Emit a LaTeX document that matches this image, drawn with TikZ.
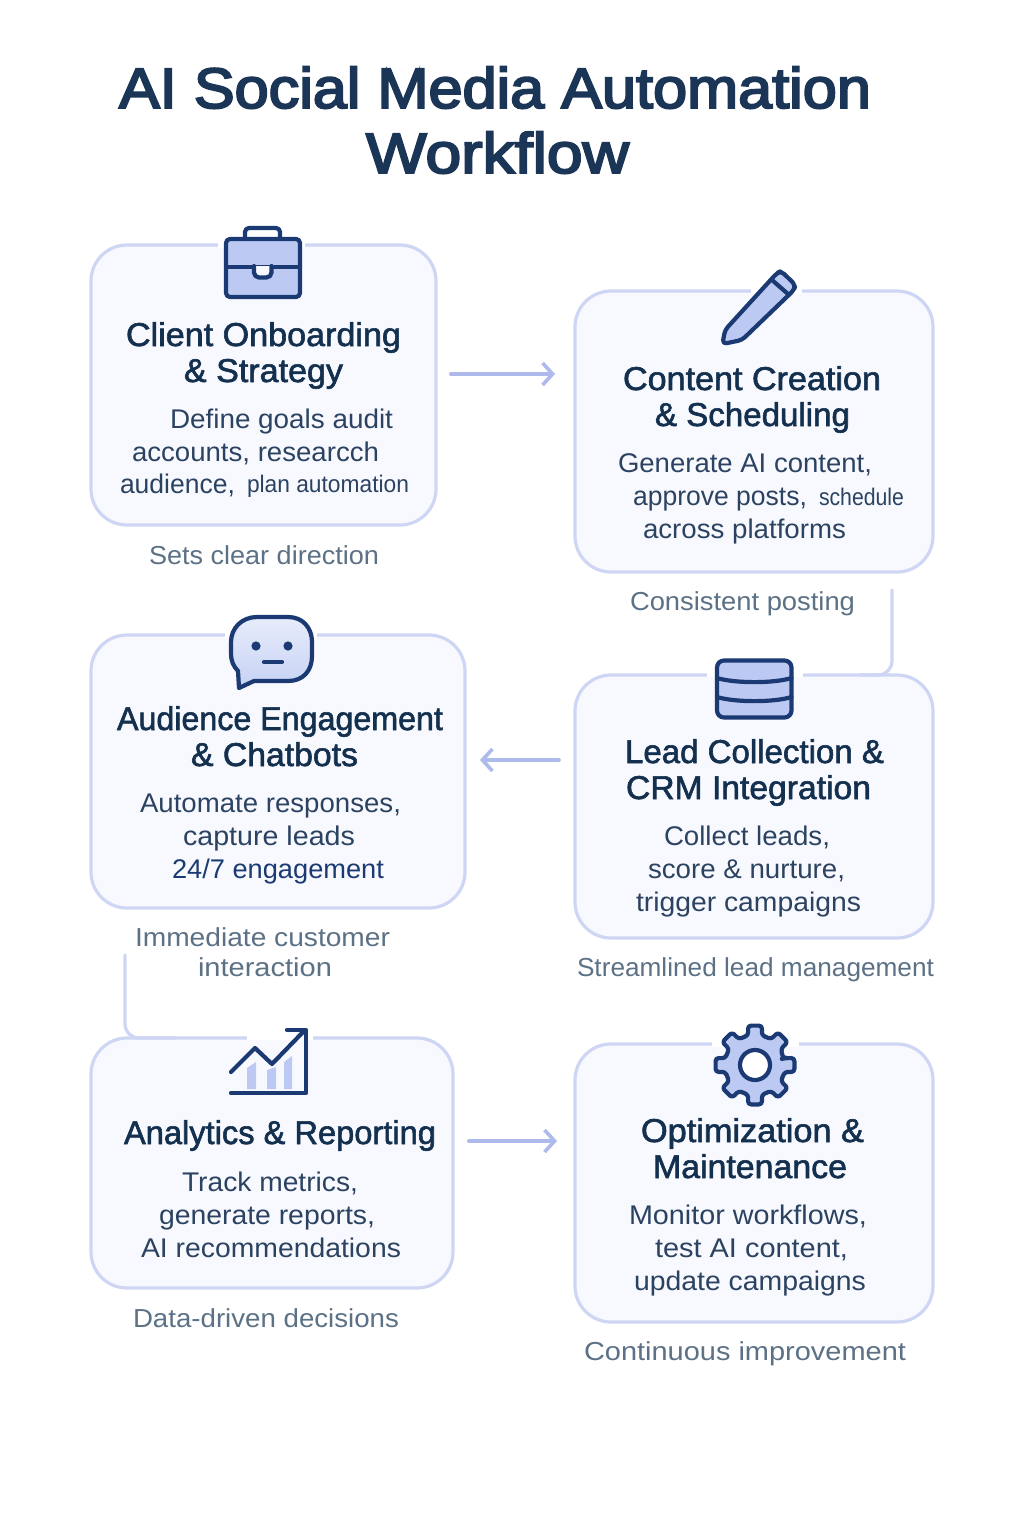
\documentclass[tikz,border=0pt]{standalone}
\usepackage{fontspec}
\usepackage{graphicx}
\usetikzlibrary{arrows.meta}
\setmainfont{Liberation Sans}
\newfontfamily\semifont[FakeBold=1.8]{Liberation Sans}
\newfontfamily\titlefont[FakeBold=3.4]{Liberation Sans}
\definecolor{titlec}{HTML}{1B3556}
\definecolor{headc}{HTML}{14304F}
\definecolor{bodyc}{HTML}{2B4361}
\definecolor{capc}{HTML}{5C7186}
\definecolor{cardfill}{HTML}{F8F9FF}
\definecolor{cardline}{HTML}{CED6F4}
\definecolor{flowc}{HTML}{AEBAEC}
\definecolor{iconline}{HTML}{1B3A73}
\definecolor{iconfill}{HTML}{BCCAF3}
\newcommand\ftitle{\color{titlec}\titlefont\fontsize{57}{57}\selectfont}
\newcommand\fhead{\color{headc}\semifont\fontsize{33}{33}\selectfont}
\newcommand\fbody{\color{bodyc}\fontsize{27}{27}\selectfont}
\newcommand\fsmall{\color{bodyc}\fontsize{24}{24}\selectfont}
\newcommand\fblue{\color{iconline}\fontsize{27}{27}\selectfont}
\newcommand\fcap{\color{capc}\fontsize{26}{26}\selectfont}
\newsavebox\tbox
\newcommand\tl[6]{%
  \node[txt] (#1) at (#2,#4) {\sbox\tbox{#5#6}\pgfmathsetmacro\rr{(#3-#2)/\the\wd\tbox}\scalebox{\rr}[1]{\usebox\tbox}};}
\newcommand\gap[3]{\fill[white] (#1,#3-3.5) rectangle (#2,#3+2.5);}
\tikzset{
  txt/.style={anchor=base west,inner sep=0pt,outer sep=0pt},
  card/.style={draw=cardline,fill=cardfill,line width=3.2pt,rounded corners=36pt,inner sep=0pt,outer sep=0pt},
  flow/.style={draw=flowc,line width=3.6pt,line cap=round,-{Straight Barb[length=10pt,width=22pt,line width=3.6pt]}},
  elbow/.style={draw=cardline,line width=3.2pt,line cap=round,rounded corners=14pt},
  icon/.style={draw=iconline,line width=4.2pt,line join=round,line cap=round},
  iconf/.style={icon,fill=iconfill}
}
\begin{document}
\begin{tikzpicture}[x=1pt,y=-1pt]
\useasboundingbox[fill=white] (0,0) rectangle (1024,1536);
% title
\tl{t1}{119}{871}{108}{\ftitle}{AI Social Media Automation}
\tl{t2}{366}{629}{173}{\ftitle}{Workflow}
% elbows behind the cards
\coordinate (bd) at (892,590);
\coordinate (ce) at (125,955);
% cards
\node[card,minimum width=345pt,minimum height=280pt] (A) at (263.5,385) {};
\node[card,minimum width=358pt,minimum height=281pt] (B) at (754,431.5) {};
\node[card,minimum width=374pt,minimum height=273pt] (C) at (278,771.5) {};
\node[card,minimum width=358pt,minimum height=263pt] (D) at (754,806.5) {};
\node[card,minimum width=362pt,minimum height=250pt] (E) at (272,1163) {};
\node[card,minimum width=358pt,minimum height=278pt] (F) at (754,1183) {};
\draw[elbow] (bd) |- (D.north -| 860,0);
\draw[elbow] (ce) |- (E.north -| 175,0);
% arrows
\draw[flow,shorten <=14.8pt,shorten >=20pt] (A.east |- 0,374) -- (B.west |- 0,374);
\draw[flow,shorten <=16pt,shorten >=15pt] (D.west |- 0,760) -- (C.east |- 0,760);
\draw[flow,shorten <=15.8pt,shorten >=18pt] (E.east |- 0,1141) -- (F.west |- 0,1141);
% gaps
\gap{218}{305}{245}
\gap{751}{802}{291}
\gap{225}{317}{635}
\gap{707}{803}{674.5}
\gap{247}{313}{1037.5}
\gap{712}{799}{1044}
% briefcase
\draw[icon,rounded corners=4pt] (245,239) -- (245,228) -- (280,228) -- (280,239);
\draw[iconf,rounded corners=4pt] (226,239) rectangle (300,297);
\draw[icon] (226,267) -- (300,267);
\draw[icon,fill=cardfill,rounded corners=5pt] (254,266) -- (254,277.5) -- (271.5,277.5) -- (271.5,266);
% pencil
\draw[iconf,rounded corners=4pt] (722.5,344) -- (725,330) -- (777,273) -- (781,271) -- (795.5,285) -- (794,290) -- (742,340) -- cycle;
\draw[icon] (772,280) -- (788,294);
% chat
\draw[icon,top color=iconfill!35!white,bottom color=iconfill!85!white] (257,617) -- (288,617) .. controls (303,617) and (312,628) .. (312,642) -- (312,656) .. controls (312,671) and (303,681) .. (288,681) -- (254,681) -- (239,688) -- (238,671) .. controls (233,666) and (231,660) .. (231,654) -- (231,642) .. controls (231,628) and (242,617) .. (257,617) -- cycle;
\fill[iconline] (256,646) circle (4.6);
\fill[iconline] (288,646) circle (4.6);
\draw[icon] (264,662) -- (282,662);
% database
\draw[iconf,rounded corners=7pt] (717,660.5) rectangle (791.5,717.5);
\draw[icon] (717,678) .. controls (735,683.5) and (774,683.5) .. (791.5,678);
\draw[icon] (717,697) .. controls (735,702.5) and (774,702.5) .. (791.5,697);
% chart
\fill[iconfill] (247,1068) -- (256,1062) -- (256,1089) -- (247,1089) -- cycle;
\fill[iconfill] (267,1070) -- (276,1067) -- (276,1089) -- (267,1089) -- cycle;
\fill[iconfill] (284,1062) -- (292,1056) -- (292,1089) -- (284,1089) -- cycle;
\draw[icon] (231,1072) -- (255,1048) -- (272,1064) -- (304,1031);
\draw[icon] (287,1030) -- (306,1030) -- (306,1093) -- (231,1093);
% gear
\begin{scope}[shift={(755,1065)}]
\draw[iconf,rounded corners=3pt] (-13:29)
  \foreach \a in {0,45,...,315}{ -- (\a-13:30.5) -- (\a-10:40) -- (\a+10:40) -- (\a+13:30.5) } -- cycle;
\draw[icon,fill=white] (0,0) circle (15);
\end{scope}
% card A
\tl{a1}{126}{401}{346}{\fhead}{Client Onboarding}
\tl{a2}{184}{343}{382}{\fhead}{\& Strategy}
\tl{a3}{170}{393}{428}{\fbody}{Define goals audit}
\tl{a4}{132}{379}{461}{\fbody}{accounts, researcch}
\tl{a5}{120}{235}{493}{\fbody}{audience,}
\tl{a6}{247}{409}{492}{\fsmall}{plan automation}
\tl{a7}{149}{379}{564}{\fcap}{Sets clear direction}
% card B
\tl{b1}{623}{881}{390}{\fhead}{Content Creation}
\tl{b2}{655}{850}{426}{\fhead}{\& Scheduling}
\tl{b3}{618}{872}{472}{\fbody}{Generate AI content,}
\tl{b4}{633}{807}{505}{\fbody}{approve posts,}
\tl{b5}{819}{904}{505}{\fsmall}{schedule}
\tl{b6}{643}{846}{538}{\fbody}{across platforms}
\tl{b7}{630}{855}{610}{\fcap}{Consistent posting}
% card C
\tl{c1}{117}{443}{730}{\fhead}{Audience Engagement}
\tl{c2}{191}{358}{766}{\fhead}{\& Chatbots}
\tl{c3}{140}{401}{812}{\fbody}{Automate responses,}
\tl{c4}{183}{355}{845}{\fbody}{capture leads}
\tl{c5}{172}{384}{878}{\fblue}{24/7 engagement}
\tl{c6}{135}{390}{946}{\fcap}{Immediate customer}
\tl{c7}{198}{332}{976}{\fcap}{interaction}
% card D
\tl{d1}{625}{884}{763}{\fhead}{Lead Collection \&}
\tl{d2}{626}{871}{799}{\fhead}{CRM Integration}
\tl{d3}{664}{830}{845}{\fbody}{Collect leads,}
\tl{d4}{648}{845}{878}{\fbody}{score \& nurture,}
\tl{d5}{636}{861}{911}{\fbody}{trigger campaigns}
\tl{d6}{577}{934}{976}{\fcap}{Streamlined lead management}
% card E
\tl{e1}{124}{436}{1144}{\fhead}{Analytics \& Reporting}
\tl{e2}{182}{358}{1191}{\fbody}{Track metrics,}
\tl{e3}{159}{375}{1224}{\fbody}{generate reports,}
\tl{e4}{141}{401}{1257}{\fbody}{AI recommendations}
\tl{e5}{133}{399}{1327}{\fcap}{Data-driven decisions}
% card F
\tl{f1}{641}{864}{1142}{\fhead}{Optimization \&}
\tl{f2}{653}{847}{1178}{\fhead}{Maintenance}
\tl{f3}{629}{867}{1224}{\fbody}{Monitor workflows,}
\tl{f4}{655}{848}{1257}{\fbody}{test AI content,}
\tl{f5}{634}{866}{1290}{\fbody}{update campaigns}
\tl{f6}{584}{906}{1360}{\fcap}{Continuous improvement}
\end{tikzpicture}
\end{document}
